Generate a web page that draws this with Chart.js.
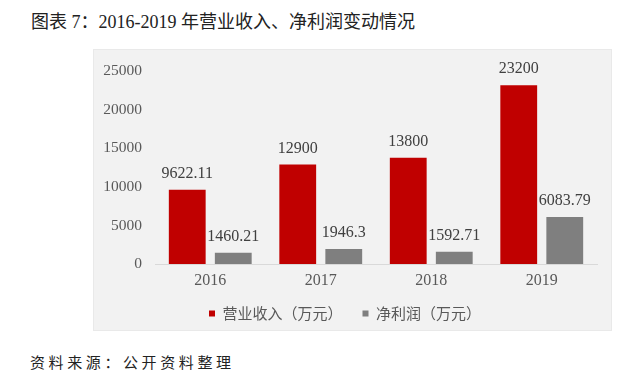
<!DOCTYPE html>
<html>
<head>
<meta charset="utf-8">
<script src="https://cdn.jsdelivr.net/npm/chart.js@4.4.1/dist/chart.umd.min.js"></script>
<style>
  body { margin: 0; background: #fff; width: 640px; height: 381px; position: relative; overflow: hidden; }
  .title { position: absolute; left: 31px; top: 7px; font: 18px "Liberation Serif", "Noto Sans CJK SC"; color: #222; white-space: nowrap; }
  .panel { position: absolute; left: 93px; top: 49px; width: 519px; height: 282px; background: #f2f2f2; box-shadow: inset 0 0 0 1px #e9e9e9; }
  .source { position: absolute; left: 30px; top: 351px; font: 15px "Noto Sans CJK SC"; letter-spacing: 3.6px; color: #222; white-space: nowrap; }
</style>
</head>
<body>
<div class="title">图表 7：2016-2019 年营业收入、净利润变动情况</div>
<div class="panel"><canvas id="chart"></canvas></div>
<div class="source">资料来源：公开资料整理</div>

<script>
// data
const years = ["2016", "2017", "2018", "2019"];
const revenue = [9622.11, 12900, 13800, 23200];
const netProfit = [1460.21, 1946.3, 1592.71, 6083.79];
const seriesNames = ["营业收入（万元）", "净利润（万元）"];
const yMax = 25000;
const yStep = 5000;

// value labels above each bar
const valueLabels = {
  id: "valueLabels",
  afterDatasetsDraw(chart) {
    const ctx = chart.ctx;
    ctx.save();
    ctx.font = '16px "Liberation Serif"';
    ctx.fillStyle = "#404040";
    ctx.textAlign = "center";
    ctx.textBaseline = "middle";
    chart.data.datasets.forEach((ds, i) => {
      chart.getDatasetMeta(i).data.forEach((bar, j) => {
        ctx.fillText(String(ds.data[j]), bar.x, bar.y - 16);
      });
    });
    ctx.restore();
  }
};

new Chart(document.getElementById("chart"), {
  type: "bar",
  data: {
    labels: years,
    datasets: [
      { label: seriesNames[0], data: revenue, backgroundColor: "#c00000" },
      { label: seriesNames[1], data: netProfit, backgroundColor: "#7f7f7f" }
    ]
  },
  options: {
    responsive: true,
    maintainAspectRatio: false,
    animation: false,
    categoryPercentage: 0.833,
    barPercentage: 0.8,
    layout: { padding: { top: 19, right: 15, left: 0, bottom: 0 } },
    scales: {
      x: {
        grid: { display: false, drawTicks: false },
        border: { display: true, color: "#d9d9d9", width: 1 },
        ticks: { color: "#595959", padding: 7, font: { family: "Liberation Serif", size: 16 } },
        afterFit: (s) => { s.height = 22; }
      },
      y: {
        min: 0,
        max: yMax,
        grid: { display: false, drawTicks: false },
        border: { display: false },
        ticks: {
          stepSize: yStep,
          color: "#595959",
          padding: 13,
          font: { family: "Liberation Serif", size: 15.5 },
          callback: (v) => String(v)
        },
        afterFit: (s) => { s.width = 62; }
      }
    },
    plugins: {
      legend: {
        position: "bottom",
        labels: {
          boxWidth: 6,
          boxHeight: 6,
          padding: 20,
          color: "#595959",
          font: { family: "Noto Sans CJK SC", size: 15 }
        }
      },
      tooltip: { enabled: false }
    }
  },
  plugins: [valueLabels]
});
</script>
</body>
</html>
